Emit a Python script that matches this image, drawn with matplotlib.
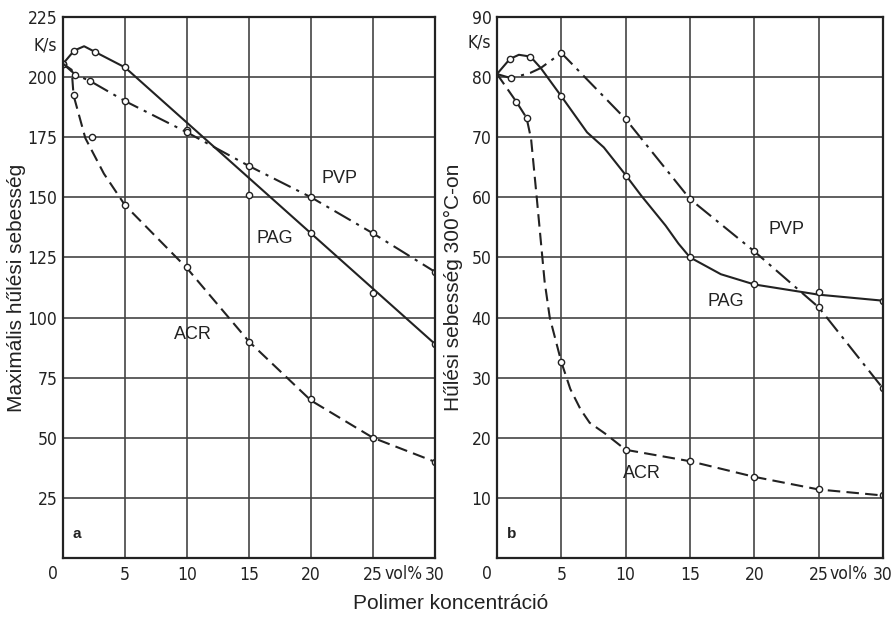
import matplotlib.pyplot as plt
import matplotlib.transforms as mtransforms

# --- data (panel a: maximum cooling rate, K/s) ---
pag_a_x = [0, 0.9, 1.7, 2.6, 5, 10, 15, 20, 25, 30]
pag_a_y = [205.5, 211, 212.8, 210.4, 204, 181, 158, 135, 112, 89]
pag_a_mx = [0, 0.9, 2.6, 5, 10, 15, 20, 25, 30]
pag_a_my = [205.5, 211, 210.4, 204, 178, 151, 135, 110, 89]

pvp_a_x = [0, 1, 2.2, 5, 10, 15, 20, 25, 30]
pvp_a_y = [205.5, 201, 198.3, 190, 177, 163, 150, 135, 119]

acr_a_x = [0, 0.7, 0.85, 1.8, 3.3, 5, 10, 15, 20, 25, 30]
acr_a_y = [205.5, 203, 192.4, 174.6, 159.8, 146.7, 120.5, 90, 65.5, 50, 40]
acr_a_mx = [0.85, 2.3, 5, 10, 15, 20, 25, 30]
acr_a_my = [192.4, 175, 146.7, 121, 90, 66, 50, 40]

# --- panel b: cooling rate at 300 °C, K/s ---
pag_b_x = [0, 1, 1.7, 2.6, 3.4, 5, 7, 8.3, 10, 11.2, 13.1, 14.1, 15, 17.4, 20, 25, 30]
pag_b_y = [80.5, 83, 83.7, 83.4, 81.5, 76.8, 70.8, 68.3, 63.7, 60.3, 55.3, 52.3, 50,
           47.2, 45.5, 43.8, 42.8]
pag_b_mx = [1, 2.6, 5, 10, 15, 20, 25, 30]
pag_b_my = [83, 83.4, 76.8, 63.5, 50, 45.5, 44.3, 42.8]

pvp_b_x = [0, 1.1, 2.6, 3.4, 5, 10, 15, 20, 25, 30]
pvp_b_y = [80.5, 79.8, 80.7, 81.5, 84, 73, 59.7, 51, 41.7, 28.2]
pvp_b_mx = [1.1, 5, 10, 15, 20, 25, 30]
pvp_b_my = [79.8, 84, 73, 59.7, 51, 41.7, 28.2]

acr_b_x = [0, 1.5, 2.3, 2.65, 3.1, 3.7, 4.1, 5, 5.7, 6.5, 7.2, 8.4, 10, 15, 20, 25, 30]
acr_b_y = [80.5, 75.9, 73.2, 69.7, 59.7, 46, 40, 32.6, 28.1, 24.7, 22.5, 20.7, 18,
           16.1, 13.5, 11.4, 10.4]
acr_b_mx = [1.5, 2.3, 5, 10, 15, 20, 25, 30]
acr_b_my = [75.9, 73.2, 32.6, 18, 16.1, 13.5, 11.4, 10.4]

x_ticks = [5, 10, 15, 20, 25, 30]
y_ticks_a = [25, 50, 75, 100, 125, 150, 175, 200, 225]
y_ticks_b = [10, 20, 30, 40, 50, 60, 70, 80, 90]

tick_font = ['DejaVu Sans']
lab_font = ['Liberation Sans', 'DejaVu Sans']
ink = '#222222'
tick_kw = dict(fontsize=12.5, family=tick_font, fontstretch='condensed', color=ink)

fig = plt.figure(figsize=(8.95, 6.17), dpi=100)
ax_a = fig.add_axes([0.0704, 0.0956, 0.4156, 0.877])
ax_b = fig.add_axes([0.5553, 0.0956, 0.4313, 0.877])


def style(ax, ymax, yticks):
    ax.set_xlim(0, 30)
    ax.set_ylim(0, ymax)
    ax.set_xticks(x_ticks)
    ax.set_yticks(yticks)
    ax.grid(True, color='#444444', lw=1.2)
    ax.tick_params(axis='x', length=0, pad=6, colors=ink)
    ax.tick_params(axis='y', length=0, pad=4, colors=ink)
    for lbl in ax.get_xticklabels() + ax.get_yticklabels():
        lbl.set(**tick_kw)
    for s in ax.spines.values():
        s.set_color(ink)
        s.set_linewidth(1.6)
    # "0" at the corner, left of the y axis
    tr = mtransforms.blended_transform_factory(ax.transData, ax.transAxes)
    ax.text(-0.8, -0.012, '0', transform=tr, ha='center', va='top', **tick_kw)


def series(ax, x, y, mx, my, ls):
    ax.plot(x, y, color=ink, lw=1.5, ls=ls)
    ax.plot(mx, my, ls='none', marker='o', ms=4.5, mfc='white',
            mec=ink, mew=1.0)


def vol(ax, xpos):
    tr = mtransforms.blended_transform_factory(ax.transData, ax.transAxes)
    ax.text(xpos, -0.012, 'vol%', transform=tr, ha='center', va='top', **tick_kw)


dashdot = (0, (9, 3, 1.5, 3))
dashed = (0, (6, 3))

style(ax_a, 225, y_ticks_a)
series(ax_a, pag_a_x, pag_a_y, pag_a_mx, pag_a_my, '-')
series(ax_a, pvp_a_x, pvp_a_y, pvp_a_x, pvp_a_y, dashdot)
series(ax_a, acr_a_x, acr_a_y, acr_a_mx, acr_a_my, dashed)
ax_a.text(-0.5, 213, 'K/s', ha='right', va='center', **tick_kw)
vol(ax_a, 27.5)
ax_a.text(22.3, 158, 'PVP', ha='center', va='center', fontsize=13,
          family=lab_font, color=ink)
ax_a.text(17.1, 133, 'PAG', ha='center', va='center', fontsize=13,
          family=lab_font, color=ink)
ax_a.text(10.5, 93, 'ACR', ha='center', va='center', fontsize=13,
          family=lab_font, color=ink)
ax_a.text(0.8, 10, 'a', ha='left', va='center', fontsize=11,
          family=lab_font, color=ink, fontweight='bold')
ax_a.set_ylabel('Maximális hűlési sebesség', fontsize=15, family=lab_font,
                color=ink)
ax_a.yaxis.set_label_coords(-0.1, 0.5)

style(ax_b, 90, y_ticks_b)
series(ax_b, pag_b_x, pag_b_y, pag_b_mx, pag_b_my, '-')
series(ax_b, pvp_b_x, pvp_b_y, pvp_b_mx, pvp_b_my, dashdot)
series(ax_b, acr_b_x, acr_b_y, acr_b_mx, acr_b_my, dashed)
ax_b.text(-0.5, 85.8, 'K/s', ha='right', va='center', **tick_kw)
vol(ax_b, 27.3)
ax_b.text(22.5, 54.7, 'PVP', ha='center', va='center', fontsize=13,
          family=lab_font, color=ink)
ax_b.text(17.8, 42.7, 'PAG', ha='center', va='center', fontsize=13,
          family=lab_font, color=ink)
ax_b.text(11.3, 14, 'ACR', ha='center', va='center', fontsize=13,
          family=lab_font, color=ink)
ax_b.text(0.8, 4, 'b', ha='left', va='center', fontsize=11,
          family=lab_font, color=ink, fontweight='bold')
ax_b.set_ylabel('Hűlési sebesség 300°C-on', fontsize=15, family=lab_font,
                color=ink)
ax_b.yaxis.set_label_coords(-0.088, 0.5)

fig.text(0.503, 0.022, 'Polimer koncentráció', ha='center', va='center',
         fontsize=15, family=lab_font, color=ink)

fig.savefig('out.png', dpi=100)
